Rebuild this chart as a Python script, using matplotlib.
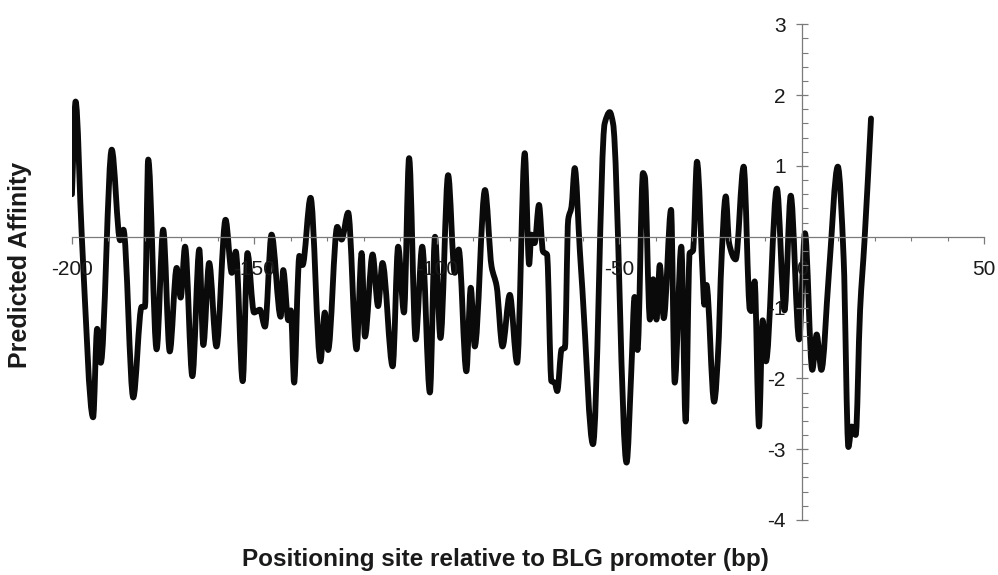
import numpy as np
import matplotlib.pyplot as plt
from matplotlib.path import Path
from matplotlib.patches import PathPatch
from matplotlib.ticker import MultipleLocator, FixedLocator

plt.rcParams['font.family'] = ['Liberation Sans', 'DejaVu Sans']

# positioning site (bp) and predicted affinity at each turning point of the profile
site = [-200, -199.0, -197.3, -194.2, -193.1, -192.1, -189.1, -186.8, -185.9, -183.2,
        -180.9, -180.0, -179.1, -176.8, -175.0, -173.2, -171.3, -170.2, -169.0, -167.0,
        -165.1, -164.0, -162.4, -160.4, -157.9, -156.2, -155.1, -153.2, -151.9, -150.1,
        -148.5, -147.1, -145.3, -142.8, -142.1, -140.7, -140.0, -139.1, -138.0, -137.7,
        -136.8, -134.6, -131.9, -130.7, -129.8, -127.3, -126.1, -124.3, -122.0, -120.6,
        -119.7, -117.6, -116.1, -114.9, -112.1, -110.6, -109.0, -107.6, -105.8, -104.0,
        -101.9, -100.5, -99.0, -96.9, -95.1, -94.0, -91.9, -90.7, -89.6, -86.8,
        -85.0, -83.6, -82.0, -80.0, -78.0, -75.9, -74.7, -74.1, -73.2, -72.0,
        -70.9, -69.8, -68.6, -67.7, -67.0, -65.8, -64.9, -64.0, -63.1, -62.2,
        -60.8, -60.1, -57.2, -54.0, -52.6, -51.7, -48.0, -46.7, -45.8, -45.0,
        -43.5, -43.0, -41.6, -40.7, -39.8, -38.9, -37.8, -35.8, -34.8, -33.0,
        -31.8, -30.7, -29.8, -28.7, -27.0, -26.7, -26.1, -24.0, -22.7, -22.2,
        -20.8, -19.9, -18.1, -15.9, -14.2, -13.8, -12.9, -11.7, -10.7, -9.8,
        -6.8, -4.7, -3.0, -0.7, 0.9, 2.9, 4.1, 5.4, 7.4, 9.9,
        11.5, 12.8, 13.7, 14.8, 16.0, 17.2, 19.0]

affinity = [0.6, 1.91, 0.0, -2.55, -1.3, -1.78, 1.23, -0.05, 0.1, -2.27,
            -0.99, -0.99, 1.09, -1.59, 0.1, -1.62, -0.44, -0.86, -0.14, -1.97,
            -0.18, -1.53, -0.37, -1.55, 0.24, -0.51, -0.21, -2.04, -0.23, -1.07,
            -1.03, -1.27, 0.03, -1.13, -0.47, -1.18, -1.04, -2.06, -0.51, -0.27,
            -0.4, 0.55, -1.76, -1.07, -1.6, 0.14, -0.04, 0.34, -1.59, -0.23,
            -1.41, -0.25, -0.98, -0.37, -1.83, -0.14, -1.07, 1.11, -1.45, -0.14,
            -2.2, 0.0, -1.43, 0.87, -0.51, -0.18, -1.9, -0.72, -1.55, 0.66,
            -0.42, -0.7, -1.55, -0.82, -1.78, 1.18, -0.39, 0.03, -0.09, 0.45,
            -0.21, -0.25, -2.04, -2.06, -2.18, -1.59, -1.57, 0.24, 0.42, 0.97,
            -0.2, -0.75, -2.93, 1.6, 1.76, 1.6, -3.19, -1.9, -0.85, -1.6,
            0.9, 0.85, -1.17, -0.6, -1.17, -0.4, -1.15, 0.38, -2.06, -0.14,
            -2.61, -0.23, -0.2, 1.06, -0.7, -0.96, -0.68, -2.33, -1.41, -0.6,
            0.57, -0.09, -0.32, 0.99, -1.03, -1.05, -0.63, -2.68, -1.18, -1.76,
            0.68, -1.04, 0.58, -1.45, 0.05, -1.88, -1.38, -1.88, -0.56, 0.99,
            -0.31, -2.97, -2.68, -2.8, -1.04, -0.07, 1.67]

x_ticks = [-200, -150, -100, -50, 0, 50]
y_ticks = [-4, -3, -2, -1, 1, 2, 3]


# smoothed line through the points as cubic Bezier segments (monotone Hermite slopes)
def smooth_path(x, y):
    x = np.asarray(x, float)
    y = np.asarray(y, float)
    h = np.diff(x)
    delta = np.diff(y) / h
    d = np.zeros_like(y)
    d[0] = delta[0]
    d[-1] = delta[-1]
    for k in range(1, len(x) - 1):
        if delta[k - 1] * delta[k] > 0:
            w1 = 2 * h[k] + h[k - 1]
            w2 = h[k] + 2 * h[k - 1]
            d[k] = (w1 + w2) / (w1 / delta[k - 1] + w2 / delta[k])
    verts = [(x[0], y[0])]
    codes = [Path.MOVETO]
    for k in range(len(x) - 1):
        verts += [(x[k] + h[k] / 3, y[k] + d[k] * h[k] / 3),
                  (x[k + 1] - h[k] / 3, y[k + 1] - d[k + 1] * h[k] / 3),
                  (x[k + 1], y[k + 1])]
        codes += [Path.CURVE4] * 3
    return Path(verts, codes)


fig = plt.figure(figsize=(9.98, 5.75), dpi=100)
ax = fig.add_axes([0.0721, 0.0957, 0.914, 0.862])

ax.add_patch(PathPatch(smooth_path(site, affinity), fill=False, edgecolor='#0a0a0a',
                       lw=4.2, joinstyle='round', capstyle='round'))

ax.set_xlim(-200, 50)
ax.set_ylim(-4, 3)

# axes cross at the origin
for side in ['top', 'right']:
    ax.spines[side].set_visible(False)
ax.spines['left'].set_position(('data', 0))
ax.spines['bottom'].set_position(('data', 0))
for side in ['left', 'bottom']:
    ax.spines[side].set_color('#7a7a7a')
    ax.spines[side].set_linewidth(0.9)

ax.xaxis.set_major_locator(FixedLocator(x_ticks))
ax.xaxis.set_minor_locator(MultipleLocator(10))
ax.yaxis.set_major_locator(FixedLocator(y_ticks))
ax.yaxis.set_minor_locator(MultipleLocator(0.2))

ax.tick_params(axis='x', which='major', direction='out', length=5, width=0.9,
               color='#7a7a7a', pad=11.5, labelsize=15, labelcolor='#1a1a1a')
ax.tick_params(axis='x', which='minor', direction='out', length=3, width=0.8, color='#7a7a7a')
ax.tick_params(axis='y', which='major', direction='inout', length=9, width=0.9,
               color='#7a7a7a', pad=7, labelsize=15, labelcolor='#1a1a1a')
ax.tick_params(axis='y', which='minor', direction='in', length=4, width=0.8, color='#7a7a7a')
ax.set_xticklabels([str(v) for v in x_ticks])
ax.set_yticklabels([str(v) for v in y_ticks])

ax.set_xlabel('Positioning site relative to BLG promoter (bp)', fontsize=17.5,
              fontweight='bold', color='#1a1a1a')
ax.xaxis.set_label_coords(0.475, -0.057)
ax.set_ylabel('Predicted Affinity', fontsize=18, fontweight='bold', color='#1a1a1a')
ax.yaxis.set_label_coords(-0.044, 0.515)

fig.savefig('out.png', dpi=100, facecolor='white')
